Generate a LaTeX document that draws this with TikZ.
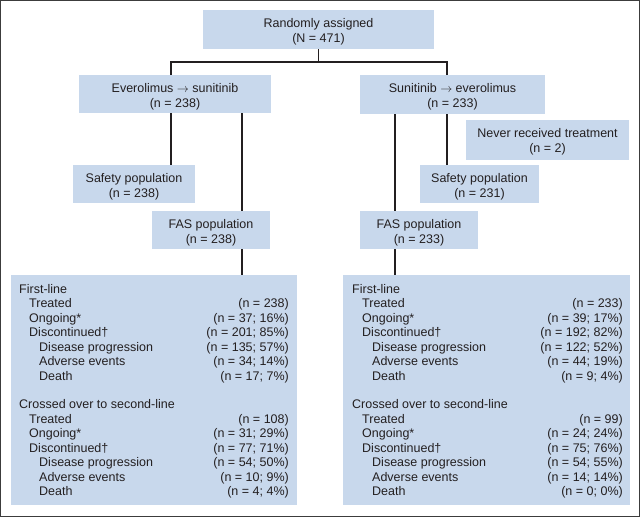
\documentclass[tikz,border=0pt]{standalone}
\usepackage{fontspec}
\setmainfont{Liberation Sans}
\definecolor{boxfill}{RGB}{200,216,236}
\definecolor{ink}{RGB}{35,31,32}
\definecolor{framecol}{RGB}{60,60,60}
\tikzset{
  smallbox/.style={fill=boxfill, draw=none, inner sep=0pt},
  boxtext/.style={inner sep=0pt, align=center, text=ink,
    font=\fontsize{12.5}{14.8}\selectfont},
  bigbox/.style={fill=boxfill, draw=none, inner sep=0pt, anchor=north west},
  conn/.style={draw=ink, line width=1.4pt},
  rowtxt/.style={inner sep=0pt, text=ink, font=\fontsize{12.5}{14.4}\selectfont},
}
\begin{document}
\begin{tikzpicture}[x=1pt,y=-1pt]
\useasboundingbox (0,0) rectangle (640,517);
\draw[framecol, line width=1pt] (0.5,0.5) rectangle (639.5,516.5);

% small boxes
\node[smallbox, minimum width=231pt, minimum height=39pt] (top) at (318.5,29.5) {};
\node[smallbox, minimum width=192pt, minimum height=38pt] (evero) at (175,94) {};
\node[smallbox, minimum width=185pt, minimum height=39pt] (suni) at (452.5,94.5) {};
\node[smallbox, minimum width=163pt, minimum height=40pt] (never) at (547.5,139.5) {};
\node[smallbox, minimum width=122pt, minimum height=38pt] (safeL) at (134,184) {};
\node[smallbox, minimum width=119pt, minimum height=38pt] (safeR) at (479.5,184) {};
\node[smallbox, minimum width=118pt, minimum height=38pt] (fasL) at (211,230) {};
\node[smallbox, minimum width=118pt, minimum height=38pt] (fasR) at (419,230) {};

% box texts (set slightly below the box centre, as in the reference)
\node[boxtext] (topT) at ([yshift=-2.5pt]top.center) {Randomly assigned\\(N = 471)};
\node[boxtext] (everoT) at ([yshift=-2.5pt]evero.center) {Everolimus $\rightarrow$ sunitinib\\(n = 238)};
\node[boxtext] (suniT) at ([yshift=-2.5pt]suni.center) {Sunitinib $\rightarrow$ everolimus\\(n = 233)};
\node[boxtext] (neverT) at ([yshift=-2.5pt]never.center) {Never received treatment\\(n = 2)};
\node[boxtext] (safeLT) at ([yshift=-2.5pt]safeL.center) {Safety population\\(n = 238)};
\node[boxtext] (safeRT) at ([yshift=-2.5pt]safeR.center) {Safety population\\(n = 231)};
\node[boxtext] (fasLT) at ([yshift=-2.5pt]fasL.center) {FAS population\\(n = 238)};
\node[boxtext] (fasRT) at ([yshift=-2.5pt]fasR.center) {FAS population\\(n = 233)};

% big boxes
\node[bigbox, minimum width=286pt, minimum height=230pt] (bigL) at (11,275) {};
\node[bigbox, minimum width=287pt, minimum height=230pt] (bigR) at (343,275) {};

% connectors
\coordinate (jL) at (171,62);
\coordinate (jR) at (447,62);
\coordinate (cL) at (242,0);
\coordinate (cR) at (395,0);
\draw[conn] (top.south) -- (top.south |- jL);
\draw[conn] (jL |- evero.north) -- (jL) -- (jR) -- (jR |- suni.north);
\draw[conn] (jL |- evero.south) -- (jL |- safeL.north);
\draw[conn] (cL |- evero.south) -- (cL |- fasL.north);
\draw[conn] (cL |- fasL.south) -- (cL |- bigL.north);
\draw[conn] (jR |- suni.south) -- (jR |- safeR.north);
\draw[conn] (cR |- suni.south) -- (cR |- fasR.north);
\draw[conn] (cR |- fasR.south) -- (cR |- bigR.north);

% rows: index/indent/label/left value/right value
\foreach \i/\ind/\lab/\vl/\vr in {
  0/0/First-line//,
  1/1/Treated/(n = 238)/(n = 233),
  2/1/Ongoing*/(n = 37; 16\%)/(n = 39; 17\%),
  3/1/Discontinued†/(n = 201; 85\%)/(n = 192; 82\%),
  4/2/Disease progression/(n = 135; 57\%)/(n = 122; 52\%),
  5/2/Adverse events/(n = 34; 14\%)/(n = 44; 19\%),
  6/2/Death/(n = 17; 7\%)/(n = 9; 4\%),
  8/0/Crossed over to second-line//,
  9/1/Treated/(n = 108)/(n = 99),
  10/1/Ongoing*/(n = 31; 29\%)/(n = 24; 24\%),
  11/1/Discontinued†/(n = 77; 71\%)/(n = 75; 76\%),
  12/2/Disease progression/(n = 54; 50\%)/(n = 54; 55\%),
  13/2/Adverse events/(n = 10; 9\%)/(n = 14; 14\%),
  14/2/Death/(n = 4; 4\%)/(n = 0; 0\%)
}{
  \pgfmathsetmacro{\yb}{293.5+14.43*\i}
  \node[rowtxt, anchor=base west] (lL\i) at ({19+10*\ind},\yb) {\lab};
  \node[rowtxt, anchor=base east] (vL\i) at (289,\yb) {\vl};
  \node[rowtxt, anchor=base west] (lR\i) at ({352+10*\ind},\yb) {\lab};
  \node[rowtxt, anchor=base east] (vR\i) at (623,\yb) {\vr};
}
\end{tikzpicture}
\end{document}
